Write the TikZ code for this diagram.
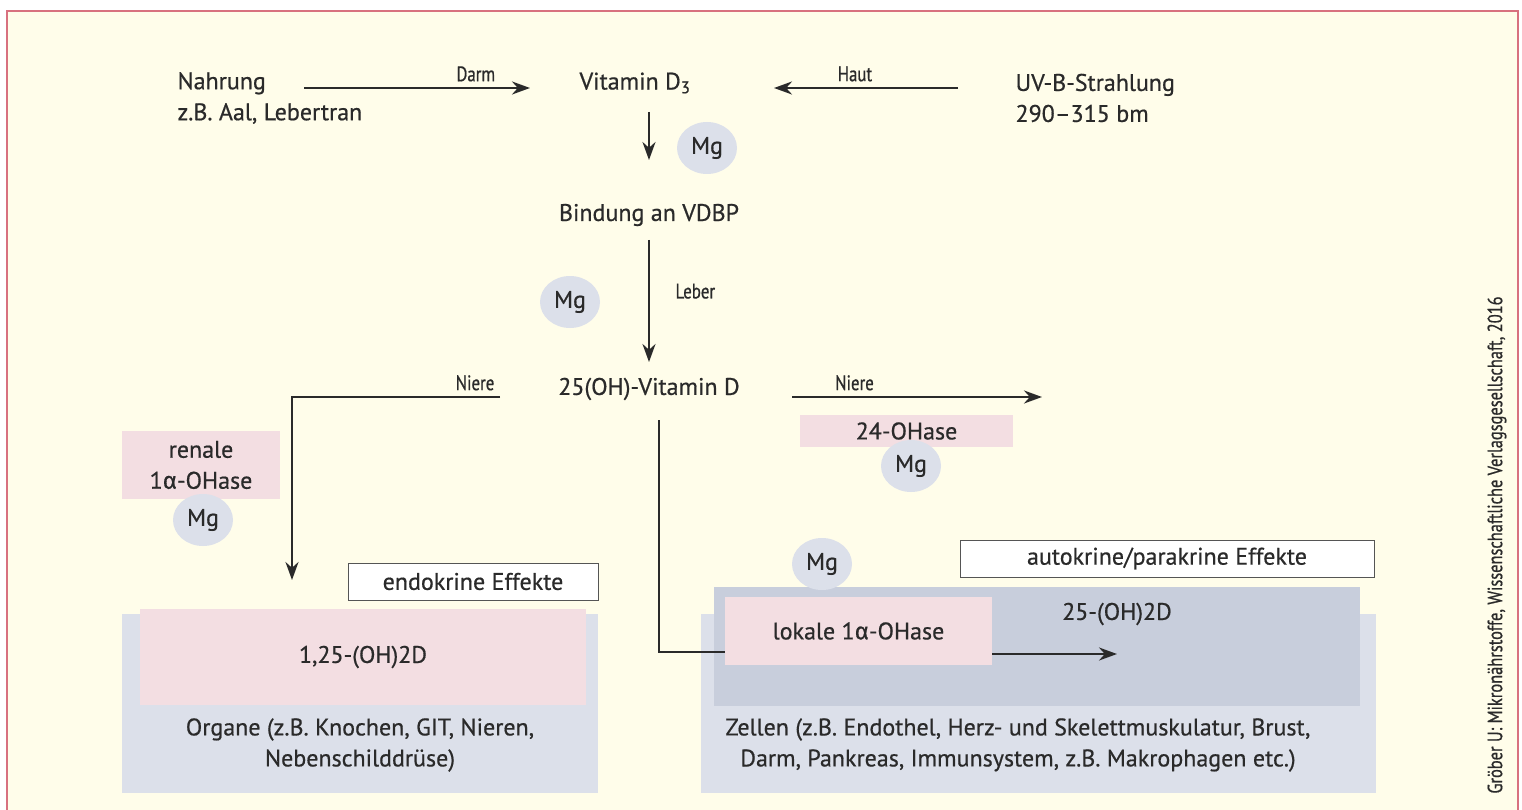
\documentclass[tikz,border=0pt]{standalone}
\usepackage{fontspec}
\setmainfont[FakeBold=0.6]{PT Sans}
\newfontfamily\condfont[FakeStretch=0.8,FakeBold=0.7]{PT Sans}
\newfontfamily\grkfont[FakeBold=0.6]{Fira Sans}
\usepackage{tikz}
\usetikzlibrary{positioning,arrows.meta,shapes.geometric}
\usepackage{xcolor}
\definecolor{paper}{HTML}{FFFDEA}
\definecolor{rahmen}{HTML}{D8717F}
\definecolor{ink}{HTML}{2A2A2A}
\definecolor{rosa}{HTML}{F3DEE2}
\definecolor{hellblau}{HTML}{DCE0EA}
\definecolor{dunkelblau}{HTML}{C8CEDC}
\newcommand{\al}{{\grkfont α}}

\begin{document}
\begin{tikzpicture}[x=1pt, y=-1pt, >=Stealth,
    font=\fontsize{24}{31}\selectfont, text=ink,
    flow/.style={->, draw=ink, line width=2.5pt, >={Stealth[length=18pt,width=13pt]}},
    pfad/.style={draw=ink, line width=2.5pt},
    weg/.style={font=\condfont\fontsize{21}{22}\selectfont},
    mg/.style={ellipse, fill=hellblau, minimum width=60pt, minimum height=52pt, inner sep=0pt},
    feld/.style={inner sep=0pt, outer sep=0pt},
    effekt/.style={feld, draw=ink!80, fill=white, line width=0.9pt, minimum height=37pt}]
    \useasboundingbox (0,0) rectangle (1522,810);

    % Hintergrund
    \draw[rahmen, line width=1.5pt, fill=paper] (7,11) rectangle (1518,830);

    % Zielgewebe
    \node[feld, fill=hellblau, minimum width=476pt, minimum height=179pt] (organe) at (360,703.5) {};
    \node[feld, fill=rosa, minimum width=446pt, minimum height=96pt] (calcitriol) at (363,657) {1,25-(OH)2D};
    \node[align=center] (organtext) at (360,745) {Organe (z.B. Knochen, GIT, Nieren,\\Nebenschilddrüse)};

    \node[feld, fill=hellblau, minimum width=675pt, minimum height=179pt] (zellen) at (1038.5,703.5) {};
    \node[feld, fill=dunkelblau, minimum width=646pt, minimum height=119pt] (zelle) at (1037,646.5) {};
    \node[feld, fill=rosa, minimum width=267pt, minimum height=68pt] (lokal) at (858.5,631) {lokale 1\al-OHase};
    \node (zielD) at (1117,614) {25-(OH)2D};
    \node[align=center] (zelltext) at (1018,745) {Zellen (z.B. Endothel, Herz- und Skelettmuskulatur, Brust,\\Darm, Pankreas, Immunsystem, z.B. Makrophagen etc.)};

    \node[effekt, minimum width=250pt] (endo) at (473,581.5) {endokrine Effekte};
    \node[effekt, minimum width=414pt] (auto) at (1167,558.5) {autokrine/parakrine Effekte};

    % Quellen und Stoffwechsel
    \node[anchor=west, align=left] (nahrung) at (174,98) {Nahrung\\z.B. Aal, Lebertran};
    \node[anchor=west, align=left] (uvb) at (1012,98) {UV-B-Strahlung\\290–315 bm};
    \node (vitd) at (635,83) {Vitamin D\textsubscript{3}};
    \node (vdbp) at (649,215) {Bindung an VDBP};
    \node (ohd) at (649,389) {25(OH)-Vitamin D};

    \node[feld, fill=rosa, minimum width=213pt, minimum height=32pt] (hase24) at (906.5,431) {24-OHase};
    \node[feld, fill=rosa, minimum width=158pt, minimum height=68pt, align=center] (renal) at (201,465) {renale\\1\al-OHase};

    % Magnesium
    \node[mg] (mg1) at (707,148) {Mg};
    \node[mg] (mg2) at (570,302) {Mg};
    \node[mg] (mg3) at (911,466) {Mg};
    \node[mg] (mg4) at (203,520) {Mg};
    \node[mg] (mg5) at (822,564) {Mg};

    % Pfeile
    \coordinate (darmA) at (304,88);
    \coordinate (darmB) at (530,88);
    \coordinate (hautA) at (958,88);
    \coordinate (hautB) at (774,88);
    \coordinate (d3unten) at (649,112);
    \coordinate (vdbpoben) at (649,160);
    \coordinate (vdbpunten) at (649,240);
    \coordinate (ohdoben) at (649,362);
    \coordinate (niereL) at (500,397);
    \coordinate (knickL) at (292,397);
    \coordinate (endoZiel) at (292,580);
    \coordinate (niereR) at (792,397);
    \coordinate (abbau) at (1042,397);
    \coordinate (lokalA) at (659,420);
    \coordinate (knickM) at (659,652);
    \coordinate (lokalB) at (992,654);
    \coordinate (lokalZiel) at (1117,654);

    \draw[flow] (darmA) -- node[weg, above=2pt, pos=0.76] (darm) {Darm} (darmB);
    \draw[flow] (hautA) -- node[weg, above=2pt, pos=0.56] (haut) {Haut} (hautB);
    \draw[flow] (d3unten) -- (vdbpoben);
    \draw[flow] (vdbpunten) -- node[weg, right=22pt, pos=0.42] (leber) {Leber} (ohdoben);
    \draw[flow] (niereL) -- node[weg, above=2pt, pos=0.12] (niere1) {Niere} (knickL) -- (endoZiel);
    \draw[flow] (niereR) -- node[weg, above=2pt, pos=0.25] (niere2) {Niere} (abbau);
    \draw[pfad] (lokalA) -- (knickM) -- (lokal.west |- knickM);
    \draw[flow] (lokalB) -- (lokalZiel);

    % Quelle
    \node[rotate=90, font=\condfont\fontsize{20.5}{22}\selectfont] (quelle) at (1497,545) {Gröber U: Mikronährstoffe, Wissenschaftliche Verlagsgesellschaft, 2016};
\end{tikzpicture}
\end{document}
